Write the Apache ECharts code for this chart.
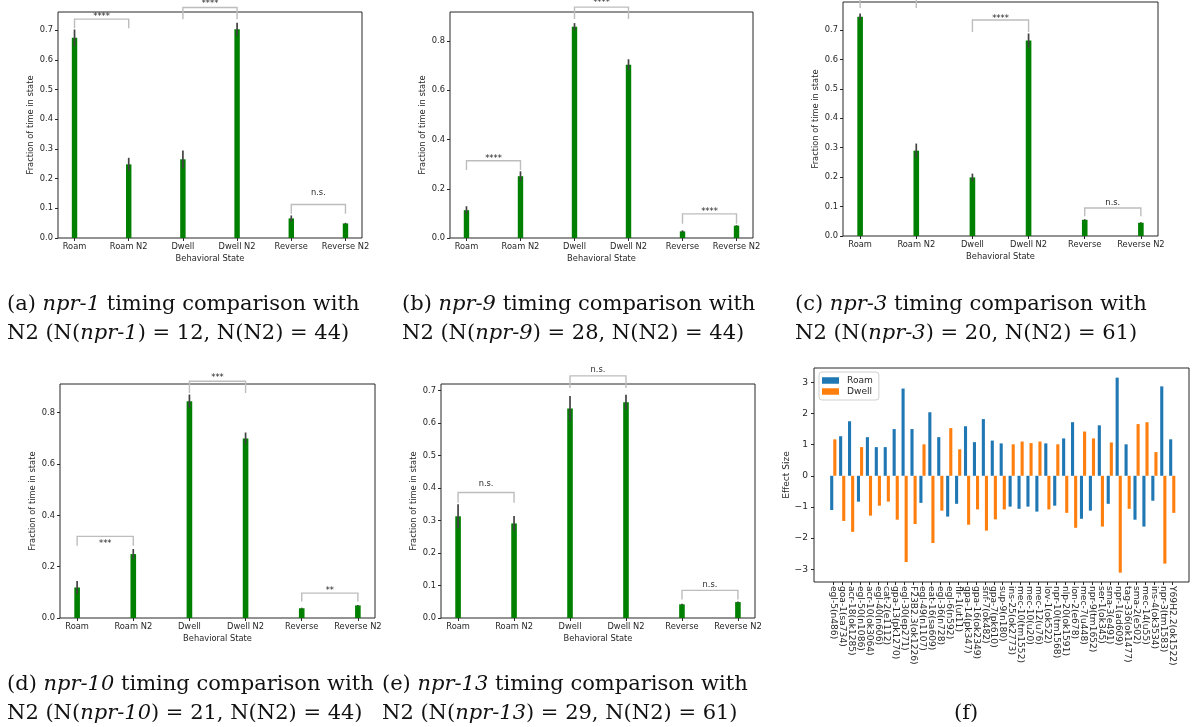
<!DOCTYPE html>
<html>
<head>
<meta charset="utf-8">
<title>npr timing comparisons</title>
<script src="https://cdn.jsdelivr.net/npm/echarts@6/dist/echarts.min.js"></script>
<style>
  html, body { margin: 0; padding: 0; background: #fff; }
  #chart { width: 1194px; height: 727px; }
</style>
</head>
<body>
<div id="chart"></div>
<script>
// x categories of panels a-e
var states = ['Roam', 'Roam N2', 'Dwell', 'Dwell N2', 'Reverse', 'Reverse N2'];

// fraction of time in state (mean, error half-width)
var npr1Mean = [0.674, 0.248, 0.265, 0.703, 0.066, 0.049];
var npr1Err = [0.028, 0.022, 0.030, 0.022, 0.010, 0.002];
var npr9Mean = [0.113, 0.251, 0.858, 0.704, 0.027, 0.050];
var npr9Err = [0.016, 0.020, 0.015, 0.022, 0.004, 0.002];
var npr3Mean = [0.745, 0.290, 0.199, 0.664, 0.055, 0.045];
var npr3Err = [0.011, 0.024, 0.013, 0.024, 0.002, 0.002];
var npr10Mean = [0.119, 0.249, 0.845, 0.700, 0.038, 0.049];
var npr10Err = [0.025, 0.020, 0.026, 0.023, 0.002, 0.002];
var npr13Mean = [0.313, 0.291, 0.645, 0.664, 0.042, 0.049];
var npr13Err = [0.037, 0.023, 0.038, 0.023, 0.002, 0.002];

// significance brackets: [bar1, bar2, bracket top, leg bottom, label height]
var npr1Sig = [[0, 1, 0.737, 0.706, 0.751], [2, 3, 0.776, 0.737, 0.795], [4, 5, 0.113, 0.082, 0.153]];
var npr1SigText = ['****', '****', 'n.s.'];
var npr9Sig = [[0, 1, 0.314, 0.276, 0.330], [2, 3, 0.938, 0.890, 0.962], [4, 5, 0.098, 0.058, 0.113]];
var npr9SigText = ['****', '****', '****'];
var npr3Sig = [[0, 1, 0.815, 0.775, 0.835], [2, 3, 0.734, 0.693, 0.746], [4, 5, 0.095, 0.067, 0.114]];
var npr3SigText = ['****', '****', 'n.s.'];
var npr10Sig = [[0, 1, 0.318, 0.282, 0.297], [2, 3, 0.923, 0.877, 0.943], [4, 5, 0.097, 0.064, 0.112]];
var npr10SigText = ['***', '***', '**'];
var npr13Sig = [[0, 1, 0.386, 0.355, 0.414], [2, 3, 0.745, 0.708, 0.764], [4, 5, 0.085, 0.057, 0.101]];
var npr13SigText = ['n.s.', 'n.s.', 'n.s.'];

var ticks01 = [0, 0.1, 0.2, 0.3, 0.4, 0.5, 0.6, 0.7];
var ticks02 = [0, 0.2, 0.4, 0.6, 0.8];

// panel f: effect sizes per mutant
var mutants = ['egl-5(n486)', 'goa-1(sa734)', 'acr-18(ok1285)', 'egl-50(n1086)', 'acr-10(ok3064)',
  'egl-40(n606)', 'cat-2(e1112)', 'gpa-13(pk1270)', 'egl-30(ep271)', 'F23B2.3(ok1226)',
  'egl-49(n1107)', 'eat-16(sa609)', 'egl-36(n728)', 'egl-6(n592)', 'flr-1(ut11)',
  'gpa-14(pk347)', 'gpa-16(ok2349)', 'snf-7(ok482)', 'gpa-7(pk610)', 'sup-9(n180)',
  'ins-25(ok2773)', 'mec-10(tm1552)', 'mec-10(u20)', 'mec-12(u76)', 'lov-1(ok522)',
  'npr-10(tm1568)', 'nlp-20(ok1591)', 'lon-2(e678)', 'mec-7(u448)', 'npr-9(tm1652)',
  'ser-1(ok345)', 'sma-3(e491)', 'npr-1(ad609)', 'tag-336(ok1477)', 'sma-2(e502)',
  'mec-14(u55)', 'ins-4(ok3534)', 'npr-3(tm1583)', 'Y69H2.2(ok1522)'];
var roamEffect = [-1.10, 1.27, 1.75, -0.83, 1.24, 0.92, 0.92, 1.50, 2.80, 1.50,
  -0.87, 2.04, 1.24, -1.31, -0.90, 1.59, 1.08, 1.82, 1.13, 1.04,
  -0.99, -1.06, -0.99, -1.15, 1.04, -0.96, 1.20, 1.72, -1.38, -1.12,
  1.62, -0.90, 3.15, 1.01, -1.41, -1.63, -0.80, 2.87, 1.17];
var dwellEffect = [1.17, -1.45, -1.80, 0.92, -1.28, -0.96, -0.83, -1.41, -2.77, -1.55,
  1.01, -2.16, -1.12, 1.53, 0.85, -1.57, -1.08, -1.76, -1.40, -1.08,
  1.01, 1.10, 1.05, 1.10, -1.08, 1.01, -1.19, -1.67, 1.42, 1.20,
  -1.63, 1.07, -3.11, -1.06, 1.66, 1.72, 0.76, -2.82, -1.19];
var effectTicks = [-3, -2, -1, 0, 1, 2, 3];

var panels = [
  {mean: npr1Mean, err: npr1Err, sig: npr1Sig, sigText: npr1SigText, ticks: ticks01, left: 58, top: 12, width: 304, height: 226, ymax: 0.761},
  {mean: npr9Mean, err: npr9Err, sig: npr9Sig, sigText: npr9SigText, ticks: ticks02, left: 450, top: 12, width: 303, height: 226, ymax: 0.918},
  {mean: npr3Mean, err: npr3Err, sig: npr3Sig, sigText: npr3SigText, ticks: ticks01, left: 843, top: 2, width: 315, height: 234, ymax: 0.795},
  {mean: npr10Mean, err: npr10Err, sig: npr10Sig, sigText: npr10SigText, ticks: ticks02, left: 60, top: 384, width: 315, height: 234, ymax: 0.912},
  {mean: npr13Mean, err: npr13Err, sig: npr13Sig, sigText: npr13SigText, ticks: ticks01, left: 441, top: 384, width: 314, height: 234, ymax: 0.72}
];

var captions = [
  {text: '(a) {i|npr-1} timing comparison with\nN2 (N({i|npr-1}) = 12, N(N2) = 44)', left: 7, top: 290},
  {text: '(b) {i|npr-9} timing comparison with\nN2 (N({i|npr-9}) = 28, N(N2) = 44)', left: 402, top: 290},
  {text: '(c) {i|npr-3} timing comparison with\nN2 (N({i|npr-3}) = 20, N(N2) = 61)', left: 795, top: 290},
  {text: '(d) {i|npr-10} timing comparison with\nN2 (N({i|npr-10}) = 21, N(N2) = 44)', left: 7, top: 670},
  {text: '(e) {i|npr-13} timing comparison with\nN2 (N({i|npr-13}) = 29, N(N2) = 61)', left: 382, top: 670},
  {text: '(f)', left: 954, top: 699}
];

var ink = '#262626';
var sans = 'DejaVu Sans';
var serif = 'DejaVu Serif';

function errorBar(params, api) {
  var p1 = api.coord([api.value(0), api.value(1)]);
  var p2 = api.coord([api.value(0), api.value(2)]);
  return {
    type: 'line',
    shape: {x1: p1[0], y1: p1[1], x2: p2[0], y2: p2[1]},
    style: {stroke: '#424242', lineWidth: 1.7}
  };
}

function bracket(labels) {
  return function (params, api) {
    var a = api.value(0), b = api.value(1);
    var top = api.value(2), leg = api.value(3), ly = api.value(4);
    var p0 = api.coord([a, leg]), p1 = api.coord([a, top]);
    var p2 = api.coord([b, top]), p3 = api.coord([b, leg]);
    var t = api.coord([(a + b) / 2, ly]);
    var label = labels[params.dataIndex];
    var shift = label.indexOf('*') >= 0 ? 2 : 0;
    return {
      type: 'group',
      children: [{
        type: 'polyline',
        shape: {points: [p0, p1, p2, p3]},
        style: {stroke: '#bdbdbd', lineWidth: 1.4, fill: null}
      }, {
        type: 'text',
        x: t[0], y: t[1] + shift,
        style: {text: label, fill: ink, font: '8.3px "DejaVu Sans"', align: 'center', verticalAlign: 'middle'}
      }]
    };
  };
}

var grids = [], xAxes = [], yAxes = [], series = [];

panels.forEach(function (p, k) {
  grids.push({left: p.left, top: p.top, width: p.width, height: p.height,
    show: true, borderColor: ink, borderWidth: 1, backgroundColor: 'transparent'});
  xAxes.push({
    gridIndex: k, type: 'value', min: -0.305, max: 5.305,
    axisLine: {show: false, onZero: false},
    axisTick: {show: true, length: 3, customValues: [0, 1, 2, 3, 4, 5], lineStyle: {color: ink}},
    axisLabel: {customValues: [0, 1, 2, 3, 4, 5], formatter: function (v) { return states[Math.round(v)]; },
      fontSize: 8.3, fontFamily: sans, color: ink, margin: 5},
    splitLine: {show: false},
    name: 'Behavioral State', nameLocation: 'middle', nameGap: 17,
    nameTextStyle: {fontSize: 8.3, fontFamily: sans, color: ink}
  });
  yAxes.push({
    gridIndex: k, type: 'value', min: 0, max: p.ymax,
    axisLine: {show: false, onZero: false},
    axisTick: {show: true, length: 3, customValues: p.ticks, lineStyle: {color: ink}},
    axisLabel: {customValues: p.ticks, formatter: function (v) { return v.toFixed(1); },
      fontSize: 8.3, fontFamily: sans, color: ink, margin: 5},
    splitLine: {show: false},
    name: 'Fraction of time in state', nameLocation: 'middle', nameGap: 23,
    nameTextStyle: {fontSize: 8.3, fontFamily: sans, color: ink}
  });
  series.push({
    type: 'bar', xAxisIndex: k, yAxisIndex: k, barWidth: p.width / 5.61 * 0.1,
    itemStyle: {color: '#008000'},
    data: p.mean.map(function (m, i) { return [i, m]; })
  });
  series.push({
    type: 'custom', xAxisIndex: k, yAxisIndex: k, clip: false, z: 5,
    data: p.mean.map(function (m, i) { return [i, m - p.err[i], m + p.err[i]]; }),
    renderItem: errorBar
  });
  series.push({
    type: 'custom', xAxisIndex: k, yAxisIndex: k, clip: false, z: 6,
    data: p.sig, renderItem: bracket(p.sigText)
  });
});

// panel f
var fIdx = mutants.map(function (m, i) { return i; });
grids.push({left: 814, top: 368, width: 375, height: 214,
  show: true, borderColor: ink, borderWidth: 1, backgroundColor: 'transparent'});
xAxes.push({
  gridIndex: 5, type: 'value', min: -2.16, max: 39.88,
  axisLine: {show: false, onZero: false},
  axisTick: {show: true, length: 3, customValues: fIdx, lineStyle: {color: ink}},
  axisLabel: {customValues: fIdx, formatter: function (v) { return mutants[Math.round(v)]; },
    rotate: -90, fontSize: 9.1, fontFamily: sans, color: ink, margin: 4},
  splitLine: {show: false}
});
yAxes.push({
  gridIndex: 5, type: 'value', min: -3.41, max: 3.46,
  axisLine: {show: false, onZero: false},
  axisTick: {show: true, length: 3, customValues: effectTicks, lineStyle: {color: ink}},
  axisLabel: {customValues: effectTicks,
    formatter: function (v) { return v < 0 ? '\u2212' + Math.abs(v) : String(v); },
    fontSize: 9.1, fontFamily: sans, color: ink, margin: 6},
  splitLine: {show: false},
  name: 'Effect Size', nameLocation: 'middle', nameGap: 21,
  nameTextStyle: {fontSize: 9.1, fontFamily: sans, color: ink}
});
series.push({
  name: 'Roam', type: 'bar', xAxisIndex: 5, yAxisIndex: 5, barWidth: 3.1, barGap: '0%',
  itemStyle: {color: '#1f77b4'},
  data: roamEffect.map(function (v, i) { return [i, v]; })
});
series.push({
  name: 'Dwell', type: 'bar', xAxisIndex: 5, yAxisIndex: 5, barWidth: 3.1, barGap: '0%',
  itemStyle: {color: '#ff7f0e'},
  data: dwellEffect.map(function (v, i) { return [i, v]; })
});

var titles = captions.map(function (c) {
  return {
    text: c.text, left: c.left, top: c.top, padding: 0,
    textStyle: {
      fontSize: 21, fontFamily: serif, fontWeight: 'normal', color: '#111', lineHeight: 29,
      rich: {i: {fontSize: 21, fontFamily: serif, fontStyle: 'italic', color: '#111', lineHeight: 29}}
    }
  };
});

var chart = echarts.init(document.getElementById('chart'));
chart.setOption({
  backgroundColor: '#fff',
  animation: false,
  title: titles,
  legend: {
    data: ['Roam', 'Dwell'], orient: 'vertical', left: 819, top: 372,
    itemWidth: 17, itemHeight: 6.5, itemGap: 2, padding: [4, 6, 4, 3],
    icon: 'rect', borderColor: '#d0d0d0', borderWidth: 1, borderRadius: 3,
    backgroundColor: 'rgba(255,255,255,0.8)',
    textStyle: {fontSize: 9.1, fontFamily: sans, color: ink, padding: [0, 0, 0, 3]}
  },
  grid: grids,
  xAxis: xAxes,
  yAxis: yAxes,
  series: series
});
</script>
</body>
</html>
